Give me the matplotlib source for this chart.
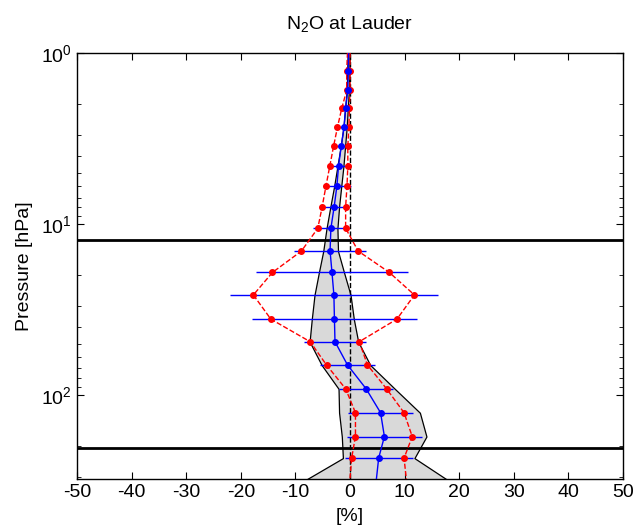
import numpy as np
import matplotlib
matplotlib.use('Agg')
import matplotlib.pyplot as plt

plt.rcParams['font.family'] = ['Liberation Sans', 'DejaVu Sans']
plt.rcParams['mathtext.default'] = 'regular'
plt.rcParams['axes.unicode_minus'] = False

# 压力层 [hPa]
pressure = [0.9, 1.27, 1.65, 2.1, 2.72, 3.5, 4.58, 6.0, 7.93, 10.6, 14.4, 19.2,
            26, 36, 48.8, 66.8, 92, 127, 175, 234, 340]
# 平均偏差及标准差 [%]
bias_mean = [-0.25, -0.3, -0.4, -0.8, -1.1, -1.6, -2.1, -2.4, -2.9, -3.5, -3.65,
             -3.3, -2.95, -2.85, -2.75, -0.45, 2.95, 5.6, 6.3, 5.25, 4.7]
bias_std = [0.1, 0.2, 0.3, 0.8, 1.2, 1.65, 1.95, 2.5, 2.6, 3.2, 6.55, 13.9,
            19.05, 15.05, 5.65, 5.05, 4.95, 5.9, 6.8, 6.25, 6.0]
# 红色虚线（左右）
red_left = [-0.4, -0.6, -0.6, -1.5, -2.3, -3.0, -3.7, -4.4, -5.1, -5.9, -8.9,
            -14.2, -17.7, -14.5, -7.3, -4.3, -0.8, 1.0, 1.0, 0.3, -0.1]
red_right = [0.0, 0.0, 0.0, -0.1, -0.2, -0.4, -0.4, -0.55, -0.8, -0.8, 1.5,
             7.2, 11.8, 8.6, 1.7, 3.2, 6.7, 9.9, 11.4, 9.9, 10.45]
# 灰色区域边界
band_left = [-0.4, -0.5, -0.6, -0.9, -1.2, -1.7, -2.3, -2.9, -3.6, -4.3, -4.9,
             -5.7, -6.5, -7.0, -7.4, -5.2, -2.1, -2.0, -1.5, -1.3, -10.0]
band_right = [-0.05, -0.1, -0.2, -0.4, -0.6, -0.9, -1.2, -1.6, -2.0, -2.3, -2.2,
              -1.1, 0.1, 0.7, 1.5, 3.7, 8.2, 12.8, 14.0, 11.8, 19.5]
# 灵敏度界限
limits = [12.4, 204]

fig = plt.figure(figsize=(6.36, 5.29), dpi=100)
ax = fig.add_axes([77 / 636, 1 - 479 / 529, 546 / 636, 426 / 529])

ax.fill_betweenx(pressure, band_left, band_right, facecolor='#d9d9d9',
                 edgecolor='black', linewidth=0.9, zorder=1)
ax.axvline(0, color='black', linestyle='--', linewidth=1, zorder=2)
for p in limits:
    ax.axhline(p, color='black', linewidth=2, zorder=2)

ax.errorbar(bias_mean, pressure, xerr=bias_std, fmt='none', ecolor='blue',
            elinewidth=1, capsize=0, zorder=3)
ax.plot(red_left, pressure, 'r--', marker='o', markersize=4, linewidth=1, zorder=4)
ax.plot(red_right, pressure, 'r--', marker='o', markersize=4, linewidth=1, zorder=4)
ax.plot(bias_mean, pressure, 'b-', marker='o', markersize=4, linewidth=1, zorder=5)

ax.set_yscale('log')
ax.set_ylim(310, 1)
ax.set_xlim(-50, 50)
ax.set_xticks(np.arange(-50, 51, 10))
ax.tick_params(which='both', direction='in', top=True, right=True, labelsize=14)
ax.tick_params(which='major', length=5)
ax.tick_params(which='minor', length=3)
for s in ax.spines.values():
    s.set_linewidth(1)

ax.set_title('N$_2$O at Lauder', fontsize=14, pad=17)
ax.set_xlabel('[%]', fontsize=14, labelpad=5)
ax.set_ylabel('Pressure [hPa]', fontsize=14, labelpad=6)

fig.savefig('out.png', dpi=100)
